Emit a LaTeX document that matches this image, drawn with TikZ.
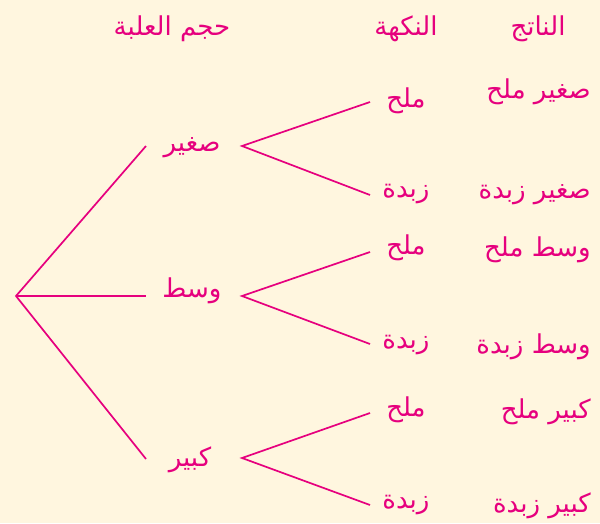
\documentclass[tikz,border=0pt]{standalone}
\usepackage{fontspec}
\newfontfamily\arabicfont[Script=Arabic]{DejaVu Sans}
\TeXXeTstate=1
\definecolor{bg}{HTML}{FFF6DF}
\definecolor{mag}{HTML}{E6007E}
\newcommand{\ar}[1]{\arabicfont\beginR #1\endR}
\begin{document}
\begin{tikzpicture}[x=1pt,y=-1pt,
  lbl/.style={text=mag,font=\fontsize{26}{30}\selectfont,inner sep=0pt},
  edge/.style={draw=mag,line width=1.7pt}]
\fill[bg] (0,0) rectangle (600,523);
\useasboundingbox (0,0) rectangle (600,523);
% headers
\node[lbl] (h1) at (172,29) {\ar{حجم العلبة}};
\node[lbl] (h2) at (406,29) {\ar{النكهة}};
\node[lbl] (h3) at (538,29) {\ar{الناتج}};
% root and branch ends
\coordinate (r) at (16,296);
\coordinate (s) at (146,146);
\coordinate (w) at (146,296);
\coordinate (k) at (146,459);
\node[lbl] (ns) at (192,148) {\ar{صغير}};
\node[lbl] (nw) at (192,291) {\ar{وسط}};
\node[lbl] (nk) at (190,460) {\ar{كبير}};
\coordinate (s0) at (242,146);
\coordinate (w0) at (242,296);
\coordinate (k0) at (242,458);
\coordinate (s1) at (370,102);
\coordinate (s2) at (370,195);
\coordinate (w1) at (370,252);
\coordinate (w2) at (370,344);
\coordinate (k1) at (370,413);
\coordinate (k2) at (370,505);
\node[lbl] (ls1) at (406,101) {\ar{ملح}};
\node[lbl] (ls2) at (406,194) {\ar{زبدة}};
\node[lbl] (lw1) at (406,248) {\ar{ملح}};
\node[lbl] (lw2) at (406,345) {\ar{زبدة}};
\node[lbl] (lk1) at (406,410) {\ar{ملح}};
\node[lbl] (lk2) at (406,505) {\ar{زبدة}};
\node[lbl,anchor=east] (o1) at (591,92) {\ar{صغير ملح}};
\node[lbl,anchor=east] (o2) at (591,195) {\ar{صغير زبدة}};
\node[lbl,anchor=east] (o3) at (591,250) {\ar{وسط ملح}};
\node[lbl,anchor=east] (o4) at (591,347) {\ar{وسط زبدة}};
\node[lbl,anchor=east] (o5) at (591,412) {\ar{كبير ملح}};
\node[lbl,anchor=east] (o6) at (591,506) {\ar{كبير زبدة}};
\draw[edge] (s) -- (r) -- (k);
\draw[edge] (r) -- (w);
\draw[edge] (s1) -- (s0) -- (s2);
\draw[edge] (w1) -- (w0) -- (w2);
\draw[edge] (k1) -- (k0) -- (k2);
\end{tikzpicture}
\end{document}
